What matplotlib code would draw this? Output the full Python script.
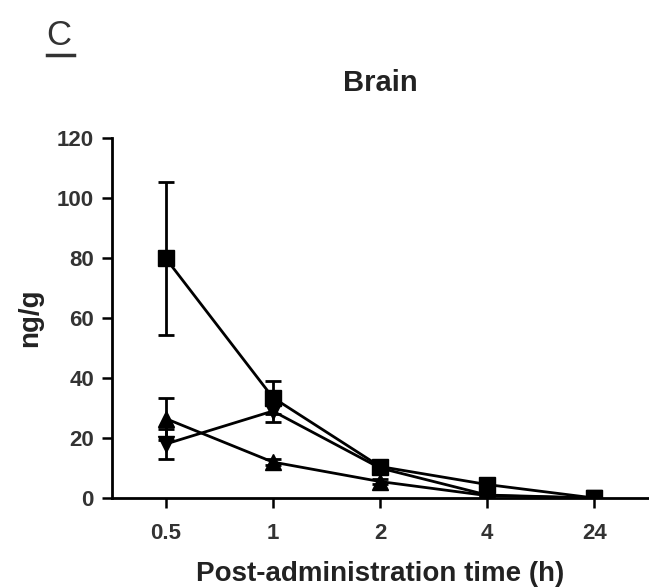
import numpy as np
import matplotlib
matplotlib.use('Agg')
import matplotlib.pyplot as plt

plt.rcParams['font.family'] = ['Liberation Sans', 'DejaVu Sans']

# categorical time points
times = ['0.5', '1', '2', '4', '24']

# series values (ng/g) and error bars
sq_mean = [80, 33.5, 10.5, 4.5, 0]
sq_err = [25.5, 5.5, 1.0, 1.0, 0]
inv_mean = [18, 29, 10, 1, 0]
inv_err = [5, 3.5, 1.0, 0.5, 0]
tri_mean = [26.5, 12, 5.5, 0.8, 0]
tri_err = [7, 1, 0.8, 0.3, 0]

x = np.arange(len(times))

fig = plt.figure(figsize=(6.49, 5.88), dpi=100)
ax = fig.add_axes([0.1726, 0.153, 0.826, 0.612])

style = dict(color='black', linewidth=2.0, markersize=11,
             capsize=5.5, elinewidth=2.0, capthick=2.0)
ax.errorbar(x, sq_mean, yerr=sq_err, marker='s', **style)
ax.errorbar(x, inv_mean, yerr=inv_err, marker='v', **style)
ax.errorbar(x, tri_mean, yerr=tri_err, marker='^', **style)

ax.set_xlim(-0.5, 4.5)
ax.set_ylim(0, 120)
ax.set_yticks(np.arange(0, 121, 20))
ax.set_xticks(x)
ax.set_xticklabels(times)

for s in ['top', 'right']:
    ax.spines[s].set_visible(False)
for s in ['left', 'bottom']:
    ax.spines[s].set_linewidth(2.0)
ax.tick_params(width=1.8, length=7, labelsize=16)
ax.tick_params(axis='x', pad=11)
ax.tick_params(axis='y', pad=6)
for lab in ax.get_xticklabels() + ax.get_yticklabels():
    lab.set_fontweight('bold')
    lab.set_color('#333333')

ax.set_ylabel('ng/g', fontsize=20, fontweight='bold', labelpad=10,
              color='#222222')
ax.set_xlabel('Post-administration time (h)', fontsize=20,
              fontweight='bold', labelpad=12, color='#222222')
ax.set_title('Brain', fontsize=21, fontweight='bold', pad=34,
             color='#222222')

fig.text(0.072, 0.94, 'C', fontsize=25, color='#333333', ha='left',
         va='center')
fig.add_artist(plt.Line2D([0.073, 0.114], [0.906, 0.906], color='#333333',
                          linewidth=2.5))

fig.savefig('out.png', dpi=100)
